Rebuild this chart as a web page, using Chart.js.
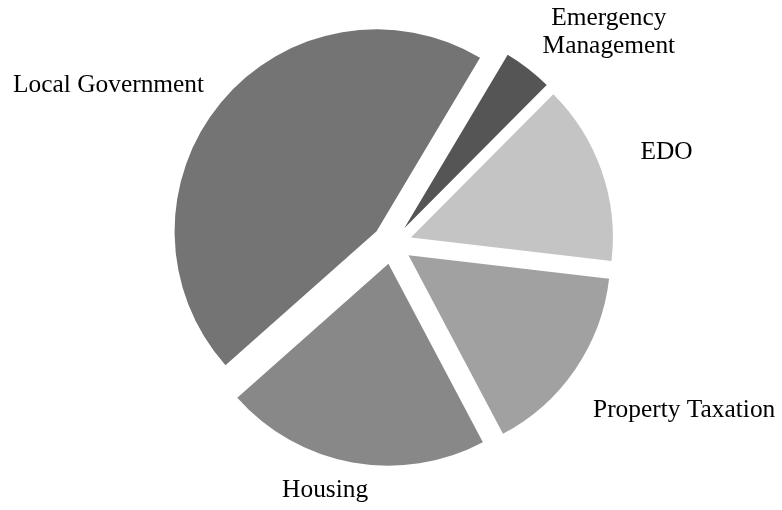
<!DOCTYPE html>
<html>
<head>
<meta charset="utf-8">
<script src="https://cdn.jsdelivr.net/npm/chart.js@4/dist/chart.umd.min.js"></script>
<style>
  html, body { margin: 0; padding: 0; background: #fff; }
  #wrap { width: 782px; height: 510px; }
</style>
</head>
<body>
<div id="wrap"><canvas id="pie"></canvas></div>
<script>
// share of the budget, clockwise from the top right
var categories = ["Emergency\nManagement", "EDO", "Property Taxation", "Housing", "Local Government"];
var shares = [3.9, 14.4, 15.4, 21.2, 45.1];
var colors = ["#555555", "#c4c4c4", "#a1a1a1", "#888888", "#747474"];

// where each label sits around the pie: [angle clockwise from top, distance from centre]
var label_spots = [[45.7, 303], [71.5, 289.5], [119.6, 336], [195.2, 255], [299.3, 325]];

var explode = 20;

// push every slice out from the centre along its middle angle
var explodePlugin = {
  id: "explode",
  afterDatasetsUpdate: function(chart) {
    var meta = chart.getDatasetMeta(0);
    meta.data.forEach(function(arc) {
      var mid = (arc.startAngle + arc.endAngle) / 2;
      arc.x = arc.x + Math.cos(mid) * explode;
      arc.y = arc.y + Math.sin(mid) * explode;
    });
  }
};

var labelPlugin = {
  id: "pieLabels",
  afterDraw: function(chart) {
    var ctx = chart.ctx;
    var area = chart.chartArea;
    var cx = (area.left + area.right) / 2;
    var cy = (area.top + area.bottom) / 2;
    ctx.save();
    ctx.fillStyle = "#000";
    ctx.font = "25.4px 'Liberation Serif', 'Times New Roman', serif";
    ctx.textAlign = "center";
    ctx.textBaseline = "middle";
    chart.data.labels.forEach(function(label, i) {
      var a = label_spots[i][0] * Math.PI / 180;
      var x = cx + Math.sin(a) * label_spots[i][1];
      var y = cy - Math.cos(a) * label_spots[i][1];
      var lines = label.split("\n");
      var lh = 28;
      lines.forEach(function(line, j) {
        ctx.fillText(line, x, y + (j - (lines.length - 1) / 2) * lh);
      });
    });
    ctx.restore();
  }
};

new Chart(document.getElementById("pie"), {
  type: "pie",
  data: {
    labels: categories,
    datasets: [{
      data: shares,
      backgroundColor: colors,
      borderWidth: 0,
      clip: false
    }]
  },
  options: {
    responsive: true,
    maintainAspectRatio: false,
    animation: false,
    rotation: 30.8,
    layout: { padding: { left: 100, right: 98, top: 42, bottom: 64 } },
    plugins: {
      legend: { display: false },
      tooltip: { enabled: false }
    }
  },
  plugins: [explodePlugin, labelPlugin]
});
</script>
</body>
</html>
